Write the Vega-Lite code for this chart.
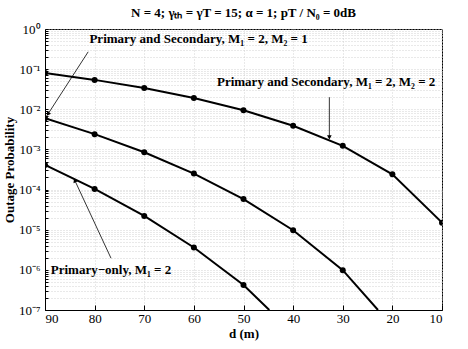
{
  "$schema": "https://vega.github.io/schema/vega-lite/v6.json",
  "width": 397,
  "height": 281,
  "autosize": "none",
  "padding": {"left": 45, "top": 29, "right": 26, "bottom": 39},
  "background": "white",
  "title": {
    "text": "N = 4; γₜₕ = γT = 15; α = 1; pT / N₀ = 0dB",
    "font": "Liberation Serif",
    "fontSize": 13,
    "fontWeight": "bold",
    "color": "black",
    "offset": 3
  },
  "config": {
    "view": {"stroke": "black", "strokeWidth": 1},
    "font": "Liberation Serif",
    "axis": {
      "labelFont": "Liberation Serif",
      "labelFontSize": 13,
      "labelColor": "black",
      "titleFont": "Liberation Serif",
      "titleFontSize": 13,
      "titleFontWeight": "bold",
      "titleColor": "black",
      "domainColor": "black",
      "tickColor": "black",
      "gridColor": "#c8c8c8",
      "gridDash": [1, 2],
      "gridWidth": 0.8
    }
  },
  "datasets": {
    "curves": [
      {"s": "M2=2", "d": 90, "p": 0.08},
      {"s": "M2=2", "d": 80, "p": 0.054},
      {"s": "M2=2", "d": 70, "p": 0.034},
      {"s": "M2=2", "d": 60, "p": 0.019},
      {"s": "M2=2", "d": 50, "p": 0.0095},
      {"s": "M2=2", "d": 40, "p": 0.0039},
      {"s": "M2=2", "d": 30, "p": 0.00123},
      {"s": "M2=2", "d": 20, "p": 0.00024},
      {"s": "M2=2", "d": 10, "p": 0.000015},
      {"s": "M2=1", "d": 90, "p": 0.006},
      {"s": "M2=1", "d": 80, "p": 0.0024},
      {"s": "M2=1", "d": 70, "p": 0.00085},
      {"s": "M2=1", "d": 60, "p": 0.00025},
      {"s": "M2=1", "d": 50, "p": 0.000058},
      {"s": "M2=1", "d": 40, "p": 0.0000097},
      {"s": "M2=1", "d": 30, "p": 0.00000098},
      {"s": "M2=1", "d": 22.9, "p": 0.0000001},
      {"s": "P", "d": 90, "p": 0.00041},
      {"s": "P", "d": 80, "p": 0.000104},
      {"s": "P", "d": 70, "p": 0.000022},
      {"s": "P", "d": 60, "p": 0.0000036},
      {"s": "P", "d": 50, "p": 0.00000042},
      {"s": "P", "d": 44.8, "p": 0.0000001}
    ],
    "arrows": [
      {"x": 81.3, "y": 0.27, "x2": 89.4, "y2": 0.0076, "ang": 213},
      {"x": 32.7, "y": 0.02, "x2": 32.7, "y2": 0.002, "ang": 180},
      {"x": 76.7, "y": 0.00000195, "x2": 84.0, "y2": 0.00017, "ang": 335}
    ],
    "labels": [
      {"x": 59.05, "y": 0.56, "t": "Primary and Secondary, M₁ = 2, M₂ = 1"},
      {"x": 33.35, "y": 0.048, "t": "Primary and Secondary, M₁ = 2, M₂ = 2"},
      {"x": 76.7, "y": 0.000001, "t": "Primary−only, M₁ = 2"}
    ]
  },
  "layer": [
    {
      "data": {"name": "curves"},
      "mark": {"type": "line", "color": "black", "strokeWidth": 2, "clip": true},
      "encoding": {
        "x": {
          "field": "d",
          "type": "quantitative",
          "scale": {"domain": [10, 90], "reverse": true, "nice": false},
          "axis": {
            "title": "d (m)",
            "values": [90, 80, 70, 60, 50, 40, 30, 20, 10],
            "grid": true,
            "tickSize": -5,
            "labelPadding": 7,
            "titlePadding": 2
          }
        },
        "y": {
          "field": "p",
          "type": "quantitative",
          "scale": {"type": "log", "domain": [1e-7, 1], "nice": false},
          "axis": {
            "title": "Outage Probability",
            "grid": true,
            "tickSize": -3,
            "labelOverlap": false,
            "labelPadding": 8,
            "titlePadding": 2,
            "values": [1e-7, 2e-7, 3e-7, 4e-7, 5e-7, 6e-7, 7e-7, 8e-7, 9e-7,
                       1e-6, 2e-6, 3e-6, 4e-6, 5e-6, 6e-6, 7e-6, 8e-6, 9e-6,
                       1e-5, 2e-5, 3e-5, 4e-5, 5e-5, 6e-5, 7e-5, 8e-5, 9e-5,
                       1e-4, 2e-4, 3e-4, 4e-4, 5e-4, 6e-4, 7e-4, 8e-4, 9e-4,
                       1e-3, 2e-3, 3e-3, 4e-3, 5e-3, 6e-3, 7e-3, 8e-3, 9e-3,
                       1e-2, 2e-2, 3e-2, 4e-2, 5e-2, 6e-2, 7e-2, 8e-2, 9e-2,
                       1e-1, 2e-1, 3e-1, 4e-1, 5e-1, 6e-1, 7e-1, 8e-1, 9e-1, 1],
            "labelExpr": "abs(log(datum.value)/LN10 - round(log(datum.value)/LN10)) < 0.001 ? '10' + ['⁰','⁻¹','⁻²','⁻³','⁻⁴','⁻⁵','⁻⁶','⁻⁷'][-round(log(datum.value)/LN10)] : ''"
          }
        },
        "detail": {"field": "s"}
      }
    },
    {
      "data": {"name": "curves"},
      "transform": [{"filter": "datum.d % 10 == 0"}],
      "mark": {"type": "point", "filled": true, "color": "black", "size": 36, "opacity": 1, "clip": true},
      "encoding": {
        "x": {"field": "d", "type": "quantitative"},
        "y": {"field": "p", "type": "quantitative"}
      }
    },
    {
      "data": {"name": "arrows"},
      "mark": {"type": "rule", "color": "black", "strokeWidth": 0.8},
      "encoding": {
        "x": {"field": "x", "type": "quantitative"},
        "x2": {"field": "x2"},
        "y": {"field": "y", "type": "quantitative"},
        "y2": {"field": "y2"}
      }
    },
    {
      "data": {"name": "arrows"},
      "mark": {"type": "point", "shape": "triangle-up", "filled": true, "color": "black", "size": 22, "opacity": 1},
      "encoding": {
        "x": {"field": "x2", "type": "quantitative"},
        "y": {"field": "y2", "type": "quantitative"},
        "angle": {"field": "ang", "type": "quantitative", "scale": null}
      }
    },
    {
      "data": {"name": "labels"},
      "mark": {"type": "text", "font": "Liberation Serif", "fontSize": 13, "fontWeight": "bold", "color": "black", "align": "center", "baseline": "middle"},
      "encoding": {
        "x": {"field": "x", "type": "quantitative"},
        "y": {"field": "y", "type": "quantitative"},
        "text": {"field": "t"}
      }
    }
  ]
}
